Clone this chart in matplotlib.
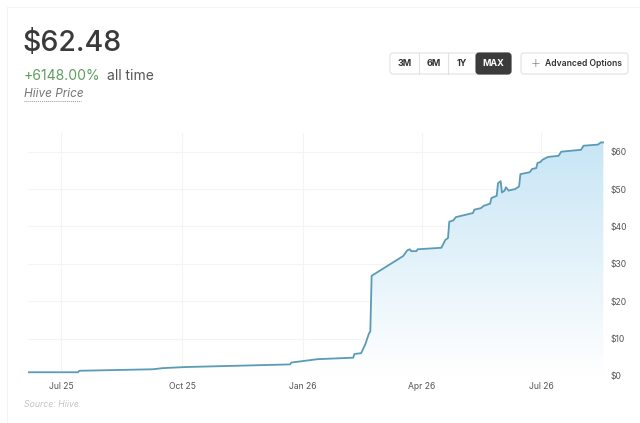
import matplotlib
matplotlib.use("Agg")
import matplotlib.pyplot as plt
import matplotlib.dates as mdates
import numpy as np
import pandas as pd
from matplotlib.patches import FancyBboxPatch, Rectangle, PathPatch
from matplotlib.transforms import IdentityTransform
from matplotlib.colors import LinearSegmentedColormap

# ---------------- data ----------------
dates = ["2025-06-06", "2025-07-14", "2025-07-15", "2025-09-09", "2025-09-16", "2025-10-04",
         "2025-12-22", "2025-12-23", "2026-01-12", "2026-02-08", "2026-02-09", "2026-02-14",
         "2026-02-17", "2026-02-20", "2026-02-21", "2026-02-22", "2026-03-18", "2026-03-21",
         "2026-03-23", "2026-03-24", "2026-03-28", "2026-03-29", "2026-04-16", "2026-04-19",
         "2026-04-21", "2026-04-22", "2026-04-25", "2026-04-27", "2026-05-10", "2026-05-11",
         "2026-05-16", "2026-05-18", "2026-05-23", "2026-05-24", "2026-05-28", "2026-05-29",
         "2026-05-31", "2026-06-01", "2026-06-03", "2026-06-04", "2026-06-06", "2026-06-11",
         "2026-06-14", "2026-06-15", "2026-06-22", "2026-06-24", "2026-06-27", "2026-06-28",
         "2026-06-30", "2026-07-02", "2026-07-06", "2026-07-14", "2026-07-16", "2026-07-31",
         "2026-08-02", "2026-08-13", "2026-08-15", "2026-08-17"]
prices = [1.00, 1.00, 1.40, 1.80, 2.10, 2.40,
          3.10, 3.60, 4.50, 4.90, 5.90, 6.10,
          8.30, 11.40, 11.90, 26.80, 32.10, 33.60,
          33.90, 33.40, 33.40, 33.90, 34.30, 36.40,
          36.90, 41.30, 41.60, 42.50, 43.60, 44.50,
          44.90, 45.50, 46.10, 47.60, 48.20, 51.60,
          52.10, 49.10, 49.60, 50.50, 49.60, 50.00,
          50.70, 54.00, 54.50, 55.40, 55.60, 57.00,
          57.20, 57.90, 58.60, 58.90, 60.00, 60.50,
          61.60, 61.90, 62.48, 62.48]
tick_dates = ["2025-07-01", "2025-10-01", "2026-01-01", "2026-04-01", "2026-07-01"]
tick_labels = ["Jul 25", "Oct 25", "Jan 26", "Apr 26", "Jul 26"]
y_ticks = [0, 10, 20, 30, 40, 50, 60]
y_labels = ["$0", "$10", "$20", "$30", "$40", "$50", "$60"]
price_text = "$62.48"
change_text = "+6148.00%"
buttons = ["3M", "6M", "1Y", "MAX"]

# ---------------- figure ----------------
W, H = 640, 423
fig = plt.figure(figsize=(W / 100, H / 100), dpi=100)
fig.patch.set_facecolor("white")
plt.rcParams['font.family'] = ['Inter', 'DejaVu Sans']


def fx(px):
    return px / W


def fy(py):
    return 1 - py / H


x = pd.to_datetime(dates)
xn = mdates.date2num(x)

ax_l, ax_r, ax_t, ax_b = 28, 604, 133, 376
ax = fig.add_axes([fx(ax_l), fy(ax_b), fx(ax_r - ax_l), (ax_b - ax_t) / H])
ax.set_facecolor("none")

ax.set_xlim(xn[0], xn[-1] + 0.5)
ax.set_ylim(0, 65)

# gradient fill under the line
poly = ax.fill_between(xn, prices, 0, color="none", linewidth=0)
cmap = LinearSegmentedColormap.from_list("g", ["#ffffff", "#c6e5f5"])
grad = np.linspace(0, 1, 256).reshape(-1, 1)
im = ax.imshow(grad, cmap=cmap, aspect="auto", origin="lower",
               extent=[xn[0], xn[-1] + 0.5, 0, 64], zorder=1)
path = poly.get_paths()[0]
clip = PathPatch(path, transform=ax.transData, facecolor="none", edgecolor="none")
ax.add_patch(clip)
im.set_clip_path(clip)

ax.plot(xn, prices, color="#5b9bb6", linewidth=1.3, zorder=3, solid_joinstyle="round")

ax.set_xticks(mdates.date2num(pd.to_datetime(tick_dates)))
ax.set_xticklabels(tick_labels)
ax.set_yticks(y_ticks)
ax.set_yticklabels(y_labels)
ax.yaxis.tick_right()
ax.tick_params(axis="both", length=0, labelsize=6.2, colors="#555555")
ax.tick_params(axis="x", pad=4)
ax.tick_params(axis="y", pad=5)
ax.grid(True, color="#f4f4f4", linewidth=0.8, zorder=0)
ax.set_axisbelow(True)
for s in ax.spines.values():
    s.set_visible(False)

# ---------------- card border ----------------
fig.patches.append(Rectangle((7, -5), W, H - 7 + 5, transform=IdentityTransform(),
                             facecolor="none", edgecolor="#f3f3f3", linewidth=0.8))

# ---------------- header text ----------------
fig.text(fx(23), fy(43), price_text, fontsize=20.5, fontweight="medium", color="#3a3a3a",
         va="center", ha="left")
fig.text(fx(24), fy(76), change_text, fontsize=10, color="#5e9e5e", va="center", ha="left")
fig.text(fx(107), fy(76), "all time", fontsize=10, color="#555555", va="center", ha="left")
fig.text(fx(24), fy(94), "Hiive Price", fontsize=8.5, style="italic", color="#777777",
         va="center", ha="left")
fig.lines.append(plt.Line2D([24, 81], [H - 101, H - 101], transform=IdentityTransform(),
                            color="#999999", linewidth=0.7, linestyle=(0, (1, 1))))

# ---------------- buttons ----------------
btn_x = [390, 419, 448, 476]
btn_w = [29, 29, 28, 35]
by0, by1 = 53, 74
grp = FancyBboxPatch((390, H - by1), 121, by1 - by0, boxstyle="round,pad=0,rounding_size=3",
                     transform=IdentityTransform(), facecolor="white", edgecolor="#e2e2e2",
                     linewidth=0.8)
fig.patches.append(grp)
for i, (b, bx, bw) in enumerate(zip(buttons, btn_x, btn_w)):
    if b == "MAX":
        fig.patches.append(FancyBboxPatch((bx, H - by1), bw, by1 - by0,
                                          boxstyle="round,pad=0,rounding_size=3",
                                          transform=IdentityTransform(), facecolor="#3b3b3b",
                                          edgecolor="#3b3b3b", linewidth=0.8))
        col = "white"
    else:
        col = "#333333"
        if i > 0:
            fig.lines.append(plt.Line2D([bx, bx], [H - by1, H - by0], transform=IdentityTransform(),
                                        color="#e2e2e2", linewidth=0.8))
    fig.text(fx(bx + bw / 2), fy((by0 + by1) / 2), b, fontsize=6.5, fontweight="bold",
             color=col, ha="center", va="center")

fig.patches.append(FancyBboxPatch((521, H - by1), 107, by1 - by0,
                                  boxstyle="round,pad=0,rounding_size=3",
                                  transform=IdentityTransform(), facecolor="white",
                                  edgecolor="#e2e2e2", linewidth=0.8))
fig.text(fx(536), fy((by0 + by1) / 2 - 0.5), "+", fontsize=8.5, fontweight="light",
         color="#555555", ha="center", va="center", family="DejaVu Sans")
fig.text(fx(545), fy((by0 + by1) / 2), "Advanced Options", fontsize=6.2,
         fontweight="semibold", color="#333333", ha="left", va="center")

# ---------------- source ----------------
fig.text(fx(24), fy(404), "Source: Hiive", fontsize=6.3, style="italic", color="#c4c4c4",
         ha="left", va="center")

fig.savefig("out.png", dpi=100, facecolor="white")
